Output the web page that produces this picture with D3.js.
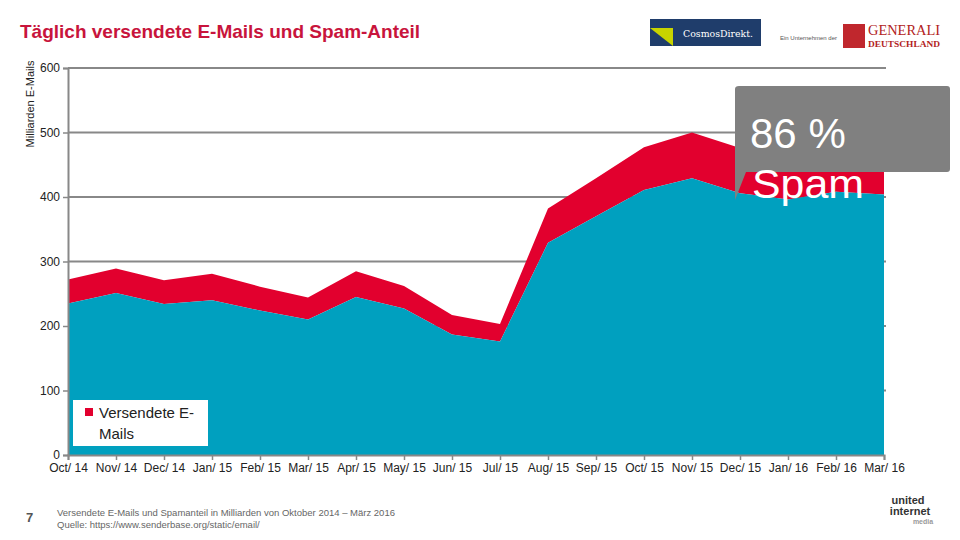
<!DOCTYPE html>
<html><head><meta charset="utf-8">
<script src="https://cdn.jsdelivr.net/npm/d3@7"></script>
<style>body{margin:0;background:#fff}svg{display:block;font-family:"Liberation Sans",Arial,sans-serif}</style>
</head><body><svg id="c" width="960" height="540"></svg>
<script>
const months = ["Oct/ 14","Nov/ 14","Dec/ 14","Jan/ 15","Feb/ 15","Mar/ 15","Apr/ 15","May/ 15","Jun/ 15","Jul/ 15","Aug/ 15","Sep/ 15","Oct/ 15","Nov/ 15","Dec/ 15","Jan/ 16","Feb/ 16","Mar/ 16"];
const spam  = [235,251,234,240,224,210,245,227,187,176,329,370,411,429,406,396,408,404];
const total = [272,289,271,281,261,244,285,262,217,203,382,429,477,500,476,470,465,472];
const yTicks = [0,100,200,300,400,500,600];

const svg = d3.select("#c");
const x = d3.scalePoint().domain(months).range([68,884]);
const y = d3.scaleLinear().domain([0,600]).range([455,68]);

// title
svg.append("text").attr("x",20).attr("y",38).attr("font-size",19).attr("font-weight","bold")
  .attr("fill","#C8143C").text("Täglich versendete E-Mails und Spam-Anteil");

// gridlines
svg.append("g").selectAll("line").data(yTicks.filter(d=>d>0)).join("line")
  .attr("x1",68).attr("x2",886).attr("y1",d=>y(d)).attr("y2",d=>y(d))
  .attr("stroke","#888").attr("stroke-width",2);

const data = months.map((m,i)=>({m,s:spam[i],t:total[i]}));
svg.append("path").datum(data).attr("fill","#E2002E")
  .attr("d",d3.area().x(d=>x(d.m)).y0(d=>y(d.s)).y1(d=>y(d.t)));
svg.append("path").datum(data).attr("fill","#00A0BF")
  .attr("d",d3.area().x(d=>x(d.m)).y0(y(0)).y1(d=>y(d.s)));

// axes
const ya = svg.append("g").attr("transform","translate(68,0)")
  .call(d3.axisLeft(y).tickValues(yTicks).tickSize(5).tickPadding(3));
const xa = svg.append("g").attr("transform","translate(0,455)")
  .call(d3.axisBottom(x).tickSize(5).tickPadding(3));
[ya,xa].forEach(a=>{
  a.select(".domain").attr("stroke","#888").attr("stroke-width",2);
  a.selectAll(".tick line").attr("stroke","#888").attr("stroke-width",1.5);
  a.selectAll("text").attr("font-size",12).attr("fill","#222").attr("font-family","Liberation Sans, Arial");
});

// y label
svg.append("text").attr("transform","translate(34,104) rotate(-90)").attr("text-anchor","middle")
  .attr("font-size",11).attr("fill","#222").text("Milliarden E-Mails");

// legend
const lg = svg.append("g");
lg.append("rect").attr("x",73).attr("y",400).attr("width",135).attr("height",46).attr("fill","#fff");
lg.append("rect").attr("x",85).attr("y",408).attr("width",8).attr("height",8).attr("fill","#E2002E");
lg.append("text").attr("x",99).attr("y",418).attr("font-size",15).attr("fill","#222").text("Versendete E-");
lg.append("text").attr("x",99).attr("y",439).attr("font-size",15).attr("fill","#222").text("Mails");

// callout
const cg = svg.append("g");
cg.append("path").attr("fill","#808080")
  .attr("d","M739,86 H947 Q950,86 950,89 V169 Q950,172 947,172 H746 L735,200 V89 Q735,86 739,86 Z");
cg.append("text").attr("x",750).attr("y",148).attr("font-size",42).attr("fill","#fff").text("86 %");
cg.append("text").attr("x",752).attr("y",198).attr("font-size",40).attr("fill","#fff")
  .attr("textLength",112).attr("lengthAdjust","spacingAndGlyphs").text("Spam");

// logos
const lo = svg.append("g");
lo.append("rect").attr("x",650).attr("y",19).attr("width",111).attr("height",27).attr("fill","#1F3D6B");
lo.append("path").attr("d","M650,28 H673 V46 Z").attr("fill","#C8D400");
lo.append("text").attr("x",683).attr("y",37).attr("font-size",10).attr("fill","#fff").attr("font-family","DejaVu Serif")
  .attr("textLength",70).attr("lengthAdjust","spacingAndGlyphs").text("CosmosDirekt.");
lo.append("text").attr("x",780).attr("y",40).attr("font-size",6).attr("fill","#555").text("Ein Unternehmen der");
lo.append("rect").attr("x",843).attr("y",24).attr("width",22).attr("height",24).attr("fill","#C0272D");
lo.append("text").attr("x",868).attr("y",35).attr("font-size",14).attr("fill","#B22222").attr("font-family","Liberation Serif")
  .attr("textLength",72).attr("lengthAdjust","spacingAndGlyphs").text("GENERALI");
lo.append("text").attr("x",868).attr("y",47).attr("font-size",9).attr("fill","#B22222").attr("font-family","Liberation Serif").attr("font-weight","bold")
  .attr("textLength",72).attr("lengthAdjust","spacingAndGlyphs").text("DEUTSCHLAND");

// footer
svg.append("text").attr("x",26).attr("y",522).attr("font-size",13).attr("fill","#555").attr("font-weight","bold").text("7");
svg.append("text").attr("x",57).attr("y",516).attr("font-size",9.5).attr("fill","#666").text("Versendete E-Mails und Spamanteil in Milliarden von Oktober 2014 – März 2016");
svg.append("text").attr("x",57).attr("y",528).attr("font-size",9.5).attr("fill","#666").text("Quelle: https://www.senderbase.org/static/email/");
const um = svg.append("g").attr("font-weight","bold").attr("text-anchor","middle");
um.append("text").attr("x",908).attr("y",504).attr("font-size",11).attr("fill","#333").text("united");
um.append("text").attr("x",910).attr("y",515).attr("font-size",11).attr("fill","#333").text("internet");
um.append("text").attr("x",923).attr("y",524).attr("font-size",7).attr("fill","#999").text("media");
</script></body></html>
